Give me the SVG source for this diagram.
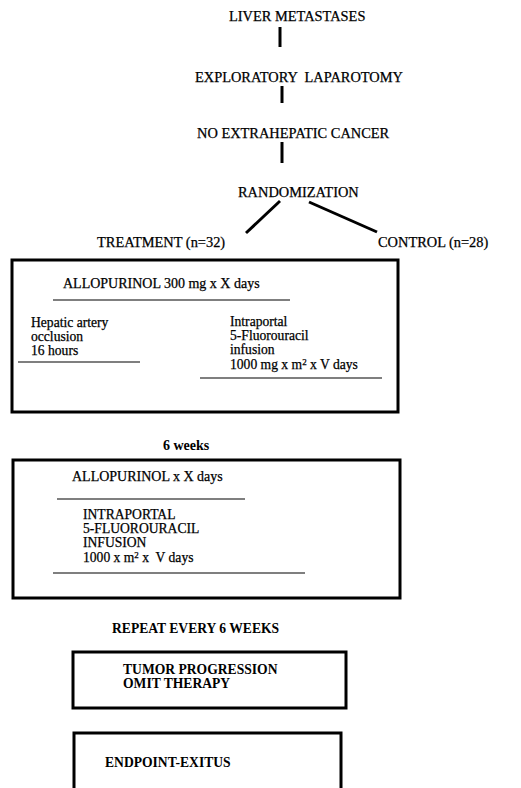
<svg xmlns="http://www.w3.org/2000/svg" width="521" height="788" viewBox="0 0 521 788">
<style>
text{font-family:"Liberation Serif","Times New Roman",serif;fill:#000;font-size:14px;stroke:#000;stroke-width:0.25}
.hd{font-size:14.4px}
.st{font-size:13.6px}
.b{font-weight:bold;font-size:13.6px;stroke-width:0}
.box{fill:none;stroke:#000;stroke-width:3}
.ul{stroke:#000;stroke-width:1.2}
.con{stroke:#000;stroke-width:3;fill:none}
.sup{font-size:9px}
</style>
<rect width="521" height="788" fill="#fff"/>
<g id="connectors">
<line class="con" x1="280" y1="27" x2="280" y2="47"/>
<line class="con" x1="282" y1="86" x2="282" y2="103"/>
<line class="con" x1="282" y1="142" x2="282" y2="163"/>
<line class="con" x1="280" y1="201" x2="246" y2="233"/>
<line class="con" x1="309" y1="202" x2="377" y2="232"/>
</g>
<g id="liver-metastases"><text class="hd" x="229" y="21">LIVER METASTASES</text></g>
<g id="exploratory-laparotomy"><text class="hd" x="195" y="82" xml:space="preserve">EXPLORATORY  LAPAROTOMY</text></g>
<g id="no-extrahepatic-cancer"><text class="hd" x="197" y="138">NO EXTRAHEPATIC CANCER</text></g>
<g id="randomization"><text class="hd" x="238" y="197">RANDOMIZATION</text></g>
<g id="treatment-label"><text class="hd" x="97" y="247">TREATMENT (n=32)</text></g>
<g id="control-label"><text class="hd" x="378" y="247">CONTROL (n=28)</text></g>
<g id="treatment-box">
<rect class="box" x="12" y="260" width="386" height="152"/>
<text x="63" y="288">ALLOPURINOL 300 mg x X days</text>
<line class="ul" x1="53" y1="300" x2="290" y2="300"/>
<text class="st" x="31" y="327">Hepatic artery</text>
<text class="st" x="31" y="341">occlusion</text>
<text class="st" x="31" y="355">16 hours</text>
<line class="ul" x1="18" y1="362" x2="140" y2="362"/>
<text class="st" x="230" y="326">Intraportal</text>
<text class="st" x="230" y="340">5-Fluorouracil</text>
<text class="st" x="230" y="354">infusion</text>
<text class="st" x="230" y="368.5">1000 mg x m<tspan class="sup" dy="-4">2</tspan><tspan dy="4"> x V days</tspan></text>
<line class="ul" x1="200" y1="378" x2="382" y2="378"/>
</g>
<g id="six-weeks"><text class="b" x="163" y="450" style="font-size:14px">6 weeks</text></g>
<g id="cycle-box">
<rect class="box" x="13" y="460" width="387" height="138"/>
<text x="72" y="481">ALLOPURINOL x X days</text>
<line class="ul" x1="57" y1="499" x2="245" y2="499"/>
<text class="st" x="83" y="518.5">INTRAPORTAL</text>
<text class="st" x="83" y="532.5">5-FLUOROURACIL</text>
<text class="st" x="83" y="546.5">INFUSION</text>
<text class="st" x="83" y="561.5">1000 x m<tspan class="sup" dy="-4">2</tspan><tspan dy="4" xml:space="preserve"> x  V days</tspan></text>
<line class="ul" x1="53" y1="573" x2="305" y2="573"/>
</g>
<g id="repeat"><text class="b" x="112" y="633">REPEAT EVERY 6 WEEKS</text></g>
<g id="tumor-progression">
<rect class="box" x="73" y="652" width="273" height="56"/>
<text class="b" x="123" y="674">TUMOR PROGRESSION</text>
<text class="b" x="123" y="688">OMIT THERAPY</text>
</g>
<g id="endpoint">
<path class="box" d="M74,790 V733 H341 V790"/>
<text class="b" x="105" y="767">ENDPOINT-EXITUS</text>
</g>
</svg>
